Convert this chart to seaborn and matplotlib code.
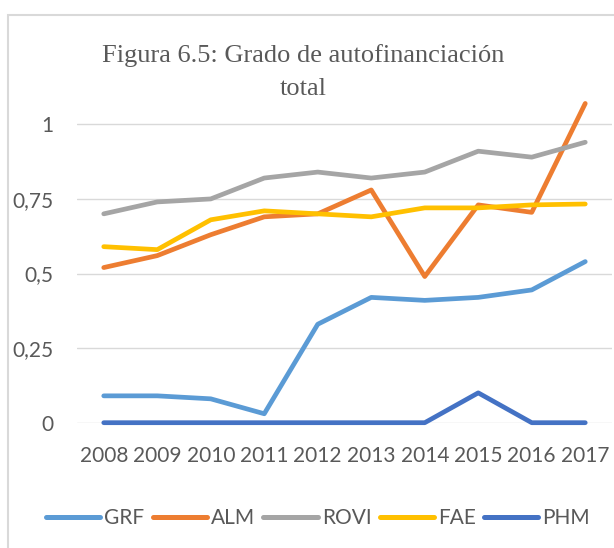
import numpy as np
import pandas as pd
import seaborn as sns
import matplotlib.pyplot as plt
from matplotlib.patches import Rectangle

# values
years = [2008, 2009, 2010, 2011, 2012, 2013, 2014, 2015, 2016, 2017]
grf = [0.09, 0.09, 0.08, 0.03, 0.33, 0.42, 0.41, 0.42, 0.445, 0.54]
alm = [0.52, 0.56, 0.63, 0.69, 0.70, 0.78, 0.49, 0.73, 0.705, 1.07]
rovi = [0.70, 0.74, 0.75, 0.82, 0.84, 0.82, 0.84, 0.91, 0.89, 0.94]
fae = [0.59, 0.58, 0.68, 0.71, 0.70, 0.69, 0.72, 0.72, 0.73, 0.733]
phm = [0, 0, 0, 0, 0, 0, 0, 0.10, 0, 0]

companies = ['GRF', 'ALM', 'ROVI', 'FAE', 'PHM']
colors = ['#5B9BD5', '#ED7D31', '#A5A5A5', '#FFC000', '#4472C4']
y_ticks = [0, 0.25, 0.5, 0.75, 1]
y_labels = ['0', '0,25', '0,5', '0,75', '1']

df = pd.DataFrame({'year': years * 5,
                   'empresa': np.repeat(companies, len(years)),
                   'valor': grf + alm + rovi + fae + phm})

sns.set_theme(style='white')
plt.rcParams['font.family'] = ['Lato', 'DejaVu Sans']
txt_color = '#595959'

fig = plt.figure(figsize=(6.14, 5.48), dpi=100)
ax = fig.add_axes([77 / 614, 1 - 422.7 / 548, 535 / 614, (422.7 - 94.5) / 548])

# chart border like excel
fig.patches.append(Rectangle((7.5 / 614, -0.1), 1.2, 1 - 15 / 548 + 0.1,
                             transform=fig.transFigure, fill=False,
                             edgecolor='#D9D9D9', lw=1.5))

sns.lineplot(data=df, x='year', y='valor', hue='empresa', hue_order=companies,
             palette=colors, lw=3.4, ax=ax, legend=False, clip_on=False,
             solid_capstyle='round')

ax.set_xlim(2007.5, 2017.5)
ax.set_ylim(0, 1.1)
ax.set_yticks(y_ticks)
ax.set_yticklabels(y_labels)
ax.set_xticks(years)
ax.set_xticklabels([str(y) for y in years])
ax.set_xlabel('')
ax.set_ylabel('')
for y in y_ticks:
    ax.axhline(y, color='#D9D9D9', lw=1.0, zorder=0)
for s in ax.spines.values():
    s.set_visible(False)
ax.tick_params(axis='both', length=0, labelsize=15, labelcolor=txt_color)
ax.tick_params(axis='y', pad=17)
ax.tick_params(axis='x', pad=17)

# baseline of the last line ("total") sits at y=95px
fig.text(303 / 614, 1 - 95 / 548, 'Figura 6.5: Grado de autofinanciación\ntotal',
         ha='center', va='baseline', family='Liberation Serif', fontsize=19,
         color=txt_color, linespacing=1.62, multialignment='center')

handles = [plt.Line2D([], [], color=c, lw=3.6, solid_capstyle='round') for c in colors]
fig.legend(handles, companies, loc='center', bbox_to_anchor=(318 / 614, 1 - 518 / 548),
           ncol=5, frameon=False, fontsize=15, labelcolor=txt_color,
           handlelength=2.6, handletextpad=0.2, columnspacing=0.4)

fig.savefig('out.png', dpi=100)
